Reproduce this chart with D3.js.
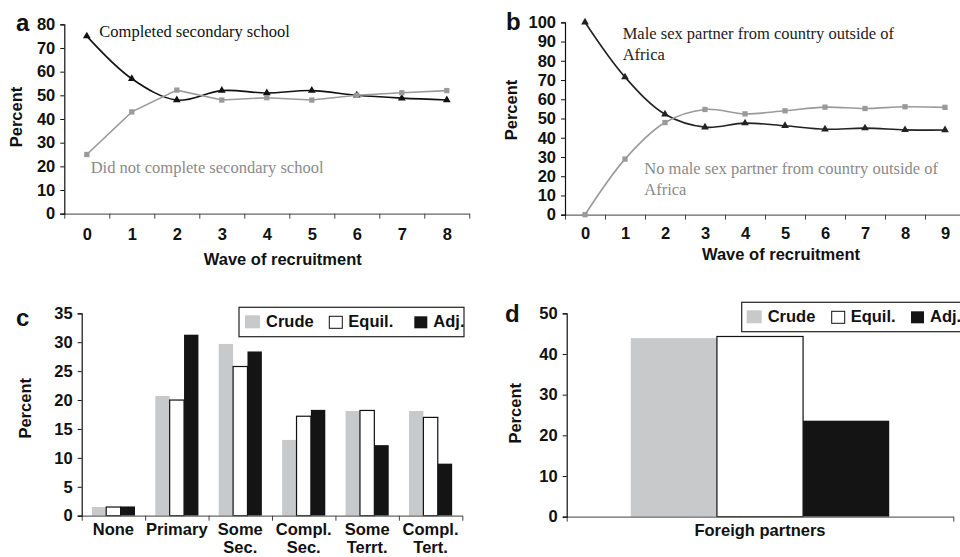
<!DOCTYPE html>
<head>
  <meta charset="utf-8">
  <title>Recruitment waves and estimates</title>
  <style>
    body { margin: 0; background: #fff; }
    svg { display: block; }
    .tick text, .lbl { font-family: "Liberation Sans", Arial, sans-serif; font-weight: bold; font-size: 16.5px; fill: #111; }
    .note { font-family: "Liberation Serif", "Times New Roman", serif; font-size: 16.5px; }
    .panel { font-family: "Liberation Sans", Arial, sans-serif; font-weight: bold; font-size: 24px; fill: #111; }
  </style>
</head>
<body>
  <svg width="960" height="557"></svg>
  <script src="https://d3js.org/d3.v7.min.js"></script>
  <script>
    // ---- data ----
    var wavesA = ["0", "1", "2", "3", "4", "5", "6", "7", "8"];
    var completedSec = [75, 57, 48, 52, 51, 52, 50, 48.8, 48];
    var notCompletedSec = [25, 43, 52.2, 48, 49, 48, 50, 51.1, 52];

    var wavesB = ["0", "1", "2", "3", "4", "5", "6", "7", "8", "9"];
    var malePartnerOut = [100, 71.5, 52.2, 45.5, 47.6, 46.2, 44.4, 45, 44.1, 44];
    var noMalePartnerOut = [0, 28.9, 47.9, 54.7, 52.4, 54, 55.9, 55.2, 56.1, 55.8];

    var eduCats = [["None"], ["Primary"], ["Some", "Sec."], ["Compl.", "Sec."], ["Some", "Terrt."], ["Compl.", "Tert."]];
    var crudeEdu = [1.5, 20.7, 29.7, 13.1, 18.1, 18.1];
    var equilEdu = [1.5, 20.0, 25.8, 17.2, 18.2, 17.0];
    var adjEdu = [1.6, 31.3, 28.4, 18.3, 12.2, 9.0];

    var partnerCats = ["Foreigh partners"];
    var crudePartner = [43.9];
    var equilPartner = [44.3];
    var adjPartner = [23.6];

    var estimateNames = ["Crude", "Equil.", "Adj."];

    var svg = d3.select("svg");

    var barFill = {"Crude": "#c8c9cb", "Equil.": "#ffffff", "Adj.": "#141414"};
    var barStroke = {"Crude": "none", "Equil.": "#111", "Adj.": "none"};

    //y axis with short ticks pointing left
    function yAxis(g, y, ticks) {
      var ax = g.append("g")
          .attr("transform", "translate(" + y.x + ",0)")
          .call(d3.axisLeft(y).tickValues(ticks).tickSize(4).tickPadding(5).tickFormat(d3.format("d")));
      ax.select(".domain").attr("stroke", "#111").attr("stroke-width", 1.2);
      ax.selectAll(".tick line").attr("stroke", "#111");
      return ax;
    }

    //x axis: line + ticks at category boundaries
    function xEdges(g, n, x0, x1, yPos) {
      var edge = d3.scaleLinear().domain([0, n]).range([x0, x1]);
      var ax = g.append("g")
          .attr("transform", "translate(0," + yPos + ")")
          .call(d3.axisBottom(edge).tickValues(d3.range(0, n + 1)).tickSize(5).tickSizeOuter(0).tickFormat(""));
      ax.select(".domain").attr("stroke", "#666").attr("stroke-width", 1.3);
      ax.selectAll(".tick line").attr("stroke", "#444");
    }

    function percentLabel(x, y) {
      svg.append("text").attr("class", "lbl")
          .attr("transform", "translate(" + x + "," + y + ") rotate(-90)")
          .attr("text-anchor", "middle")
          .text("Percent");
    }

    //line panels (a and b)
    function linePanel(opt) {
      var g = svg.append("g");
      var x = d3.scalePoint().domain(opt.cats).range([opt.x0, opt.x1]).padding(0.5);
      var y = d3.scaleLinear().domain([0, opt.ymax]).range([opt.y0, opt.y1]);
      y.x = opt.x0;

      xEdges(g, opt.cats.length, opt.x0, opt.x1, opt.y0);
      yAxis(g, y, d3.range(0, opt.ymax + 1, 10));

      var labels = g.append("g")
          .attr("transform", "translate(0," + opt.y0 + ")")
          .call(d3.axisBottom(x).tickSize(0).tickPadding(opt.labPad));
      labels.select(".domain").remove();

      g.append("text").attr("class", "lbl")
          .attr("x", (opt.x0 + opt.x1) / 2 + 16).attr("y", opt.titleY)
          .attr("text-anchor", "middle")
          .text("Wave of recruitment");

      opt.series.forEach(function(s) {
        var pts = s.values.map(function(v, i) { return [x(opt.cats[i]), y(v)]; });
        g.append("path")
            .attr("d", d3.line().curve(s.smooth ? d3.curveCatmullRom.alpha(0.5) : d3.curveLinear)(pts))
            .attr("fill", "none")
            .attr("stroke", s.color)
            .attr("stroke-width", 1.6);
        g.selectAll(null).data(pts).enter().append("path")
            .attr("transform", function(d) { return "translate(" + d[0] + "," + d[1] + ")"; })
            .attr("d", d3.symbol().type(s.symbol).size(s.symbol === d3.symbolTriangle ? 26 : 28)())
            .attr("fill", s.color);
        var t = g.append("text").attr("class", "note").attr("fill", s.textColor)
            .attr("x", s.tx).attr("y", s.ty);
        s.note.forEach(function(line, i) {
          t.append("tspan").attr("x", s.tx).attr("dy", i ? 21 : 0).text(line);
        });
      });
    }

    //bar panels (c and d)
    function barPanel(opt) {
      var g = svg.append("g");
      var x0 = d3.scaleBand().domain(d3.range(opt.cats.length)).range([opt.x0, opt.x1])
          .paddingInner(opt.pin).paddingOuter(opt.pout);
      var x1 = d3.scaleBand().domain(estimateNames).range([0, x0.bandwidth()]);
      var y = d3.scaleLinear().domain([0, opt.ymax]).range([opt.y0, opt.y1]);
      y.x = opt.x0;

      var rows = opt.cats.map(function(c, i) {
        return estimateNames.map(function(k, j) { return {key: k, value: opt.values[j][i], cat: i}; });
      });

      g.append("g").selectAll("g")
        .data(rows)
        .enter().append("g")
          .attr("transform", function(d, i) { return "translate(" + x0(i) + ",0)"; })
        .selectAll("rect")
        .data(function(d) { return d; })
        .enter().append("rect")
          .attr("x", function(d) { return x1(d.key); })
          .attr("y", function(d) { return y(d.value); })
          .attr("width", x1.bandwidth())
          .attr("height", function(d) { return opt.y0 - y(d.value); })
          .attr("fill", function(d) { return barFill[d.key]; })
          .attr("stroke", function(d) { return barStroke[d.key]; })
          .attr("stroke-width", 1.2);

      xEdges(g, opt.cats.length, opt.x0, opt.x1, opt.y0);
      yAxis(g, y, d3.range(0, opt.ymax + 1, opt.step));

      //category labels, possibly two lines
      g.selectAll(".catlab").data(opt.cats).enter().append("text")
          .attr("class", "lbl")
          .attr("text-anchor", "middle")
          .attr("y", opt.y0 + 19.5)
          .each(function(d, i) {
            var lines = Array.isArray(d) ? d : [d];
            var t = d3.select(this);
            lines.forEach(function(line, k) {
              t.append("tspan").attr("x", x0(i) + x0.bandwidth() / 2).attr("dy", k ? 17.5 : 0).text(line);
            });
          });

      //legend
      var lg = g.append("g").attr("transform", "translate(" + opt.legX + "," + opt.legY + ")");
      lg.append("rect").attr("x", 0).attr("y", 0).attr("width", opt.legW).attr("height", 29.4)
          .attr("fill", "#fff").attr("stroke", "#222").attr("stroke-width", 1.2);
      var item = lg.selectAll(".item").data(estimateNames).enter().append("g")
          .attr("transform", function(d, i) { return "translate(" + (opt.legPad + opt.legStep[i]) + ",0)"; });
      item.append("rect")
          .attr("x", function(d) { return d === "Crude" ? 0 : 1; })
          .attr("y", function(d) { return d === "Crude" ? 8 : 9; })
          .attr("width", function(d) { return d === "Crude" ? 15 : 13; })
          .attr("height", function(d) { return d === "Crude" ? 13 : 12; })
          .attr("fill", function(d) { return barFill[d]; })
          .attr("stroke", function(d) { return barStroke[d]; });
      item.append("text").attr("class", "lbl")
          .attr("x", function(d) { return d === "Crude" ? 21 : 20; })
          .attr("y", 19.4)
          .text(function(d) { return d; });
    }

    linePanel({
      cats: wavesA, x0: 64.3, x1: 469.3, y0: 213.7, y1: 24.3, ymax: 80,
      labPad: 15, titleY: 265,
      series: [
        {values: completedSec, color: "#111", textColor: "#111", symbol: d3.symbolTriangle, smooth: true,
         note: ["Completed secondary school"], tx: 99.3, ty: 36.7},
        {values: notCompletedSec, color: "#9a9a9a", textColor: "#8a8a8a", symbol: d3.symbolSquare, smooth: false,
         note: ["Did not complete secondary school"], tx: 90.7, ty: 173.3}
      ]
    });

    linePanel({
      cats: wavesB, x0: 565, x1: 965, y0: 214.7, y1: 22.3, ymax: 100,
      labPad: 13, titleY: 260,
      series: [
        {values: malePartnerOut, color: "#222", textColor: "#222", symbol: d3.symbolTriangle, smooth: true,
         note: ["Male sex partner from country outside of", "Africa"], tx: 622.7, ty: 39.3},
        {values: noMalePartnerOut, color: "#9a9a9a", textColor: "#8a8a8a", symbol: d3.symbolSquare, smooth: true,
         note: ["No male sex partner from country outside of", "Africa"], tx: 644.3, ty: 174}
      ]
    });

    barPanel({
      cats: eduCats, values: [crudeEdu, equilEdu, adjEdu],
      x0: 81.7, x1: 462.3, y0: 515.7, y1: 313.3, ymax: 35, step: 5,
      pin: 0.32, pout: 0.16,
      legX: 239, legY: 307.3, legW: 225, legPad: 6, legStep: [0, 83.3, 168.3]
    });

    barPanel({
      cats: partnerCats, values: [crudePartner, equilPartner, adjPartner],
      x0: 566.7, x1: 953.3, y0: 516.7, y1: 313.3, ymax: 50, step: 10,
      pin: 0, pout: 0.248,
      legX: 741.7, legY: 302.3, legW: 240, legPad: 5, legStep: [0, 84, 163.3]
    });

    percentLabel(21.7, 117);
    percentLabel(517.3, 110);
    percentLabel(30.7, 408.3);
    percentLabel(520.7, 413.3);

    svg.append("text").attr("class", "panel").attr("x", 16).attr("y", 31).text("a");
    svg.append("text").attr("class", "panel").attr("x", 506).attr("y", 30).text("b");
    svg.append("text").attr("class", "panel").attr("x", 16).attr("y", 326).text("c");
    svg.append("text").attr("class", "panel").attr("x", 505).attr("y", 321.7).text("d");
  </script>
</body>
